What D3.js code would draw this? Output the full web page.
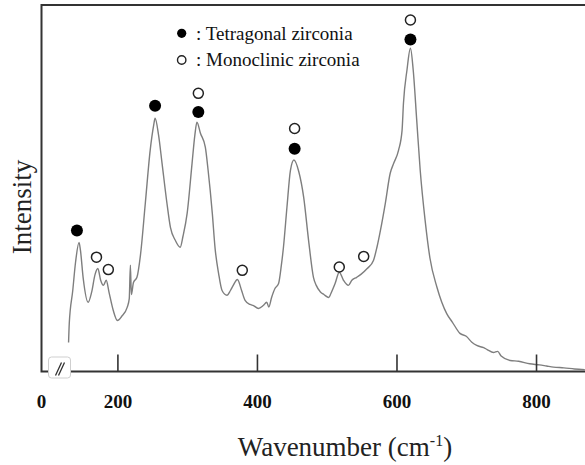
<!DOCTYPE html>
<html><head><meta charset="utf-8">
<script src="https://cdn.jsdelivr.net/npm/d3@7"></script>
<style>
html,body{margin:0;padding:0;background:#fff;}
svg{display:block;}
</style></head>
<body>
<svg id="chart" width="585" height="465"></svg>
<script>
// ---- data ----
const wavenumber = [130,131,136,140,145,147,151,158,163,168,172,176,180,184,188,194,200,206,214,217,218.6,220,223,228,233,240,247,252,254,259,264,271,276,283,290,294,300,307,311,314,319,326,330,336,340,345,350,357,362,366,372,378,383,390,395,402,409,414,417,421,426,431,435,438,443,448,453,460,467,474,481,485,491,496,503,506,512,518,524,531,536,543,549,558,567,572,577,584,591,596,603,608,610,615,620,624,629,634,641,648,658,672,680,691,700,708,715,725,730,739,745,750,763,775,791,805,815,825,840,855,870];
const intensity = [7.9,13.1,22.1,29.8,35.2,33.1,25.4,18.9,21.6,26.5,28.1,24.9,23.5,24.9,21.6,16.7,13.9,15.0,17.5,19.9,29.0,21.0,24.3,25.7,31.7,45.9,60.4,67.2,69.1,64.5,56.8,45.9,39.3,35.8,33.9,36.9,43.2,56.8,64.5,68.0,65.0,61.2,54.9,43.2,33.6,26.8,22.1,20.8,22.1,23.5,25.1,22.1,19.4,18.3,18.0,17.2,18.0,18.9,17.6,20.2,22.7,24.0,29.0,33.9,44.8,54.9,57.7,54.5,47.5,35.8,25.7,23.5,21.7,21.0,20.2,21.3,24.0,27.1,24.9,23.5,24.9,25.7,26.5,28.1,30.3,33.9,38.5,45.9,54.1,56.8,60.4,65.8,73.2,82.2,88.2,82.2,68.6,54.9,41.3,30.9,23.0,15.8,13.5,10.4,9.6,8.0,7.1,6.5,6.0,5.2,5.5,4.2,3.0,2.8,2.1,1.8,1.5,1.2,1.0,0.7,0.5];

const tetragonalX = [142,254,316,454,620];
const tetragonalY = [38.5,72.5,70.8,60.8,90.6];
const monoclinicX = [170,187,316,379,454,518,553,620];
const monoclinicY = [31.2,27.8,75.9,27.6,66.3,28.5,31.4,95.9];

const xTicks = [200,400,600,800];
const originLabel = "0";
const legendLabels = [": Tetragonal zirconia", ": Monoclinic zirconia"];
const xTitle = "Wavenumber (cm";
const xTitleSup = "-1";
const yTitle = "Intensity";

// ---- layout ----
const svg = d3.select("#chart");
const mLeft = 41.5, mRight = 585, mTop = 5, mBottom = 371.5;
const x = d3.scaleLinear().domain([91.2, 870.2]).range([mLeft, mRight]);
const y = d3.scaleLinear().domain([0, 100]).range([mBottom, mTop]);
const serif = "'Liberation Serif','Times New Roman',serif";

// spectrum
const line = d3.line().x((d,i)=>x(wavenumber[i])).y((d,i)=>y(intensity[i])).curve(d3.curveMonotoneX);
svg.append("path").datum(intensity).attr("d", line)
  .attr("fill","none").attr("stroke","#7e7e7e").attr("stroke-width",1.4).attr("stroke-linejoin","round");

// frame
svg.append("path")
  .attr("d", `M${mRight},${mTop}H${mLeft}V${mBottom}H${mRight}`)
  .attr("fill","none").attr("stroke","#333").attr("stroke-width",2);

// x axis ticks
const ax = svg.append("g").attr("transform",`translate(0,${mBottom})`)
  .call(d3.axisBottom(x).tickValues(xTicks).tickSizeInner(-17).tickSizeOuter(0).tickPadding(0));
ax.select(".domain").remove();
ax.selectAll(".tick line").attr("stroke","#333").attr("stroke-width",1.6);
ax.selectAll(".tick text").attr("y",36.5).attr("dy",null)
  .attr("font-family",serif).attr("font-weight","bold").attr("font-size",19).attr("fill","#111");
svg.append("text").attr("x", x.range()[0]).attr("y", mBottom+36.5).attr("text-anchor","middle")
  .attr("font-family",serif).attr("font-weight","bold").attr("font-size",19).attr("fill","#111").text(originLabel);

// axis break symbol
const bx = x.range()[0] + 7;
svg.append("rect").attr("x",bx).attr("y",mBottom-14.5).attr("width",22).attr("height",21).attr("rx",3)
  .attr("fill","#fff").attr("stroke","#cfcfcf").attr("stroke-width",1);
svg.append("path").attr("d",`M${bx+7},${mBottom+4}L${bx+13},${mBottom-9}M${bx+10},${mBottom+4}L${bx+16},${mBottom-9}`)
  .attr("stroke","#333").attr("stroke-width",1.3);

// markers
svg.append("g").selectAll("circle").data(tetragonalX).join("circle")
  .attr("cx",(d)=>x(d)).attr("cy",(d,i)=>y(tetragonalY[i])).attr("r",6).attr("fill","#000");
svg.append("g").selectAll("circle").data(monoclinicX).join("circle")
  .attr("cx",(d)=>x(d)).attr("cy",(d,i)=>y(monoclinicY[i])).attr("r",5).attr("fill","#fff")
  .attr("stroke","#222").attr("stroke-width",1.5);

// legend
const lg = svg.append("g");
lg.append("circle").attr("cx",181.7).attr("cy",33.3).attr("r",4.6).attr("fill","#000");
lg.append("circle").attr("cx",181.7).attr("cy",60).attr("r",4.2).attr("fill","#fff").attr("stroke","#222").attr("stroke-width",1.4);
lg.selectAll("text").data(legendLabels).join("text")
  .attr("x",196).attr("y",(d,i)=>39.5+i*26.7)
  .attr("font-family",serif).attr("font-size",19).attr("fill","#111").text(d=>d);

// axis titles
const xt = svg.append("text").attr("x",345).attr("y",456).attr("text-anchor","middle")
  .attr("font-family",serif).attr("font-size",27).attr("fill","#222");
xt.append("tspan").text(xTitle);
xt.append("tspan").attr("font-size",16).attr("dy",-10).text(xTitleSup);
xt.append("tspan").attr("dy",10).text(")");

svg.append("text").attr("transform","translate(31,207) rotate(-90)").attr("text-anchor","middle")
  .attr("font-family",serif).attr("font-size",27).attr("fill","#222").text(yTitle);
</script>
</body></html>
